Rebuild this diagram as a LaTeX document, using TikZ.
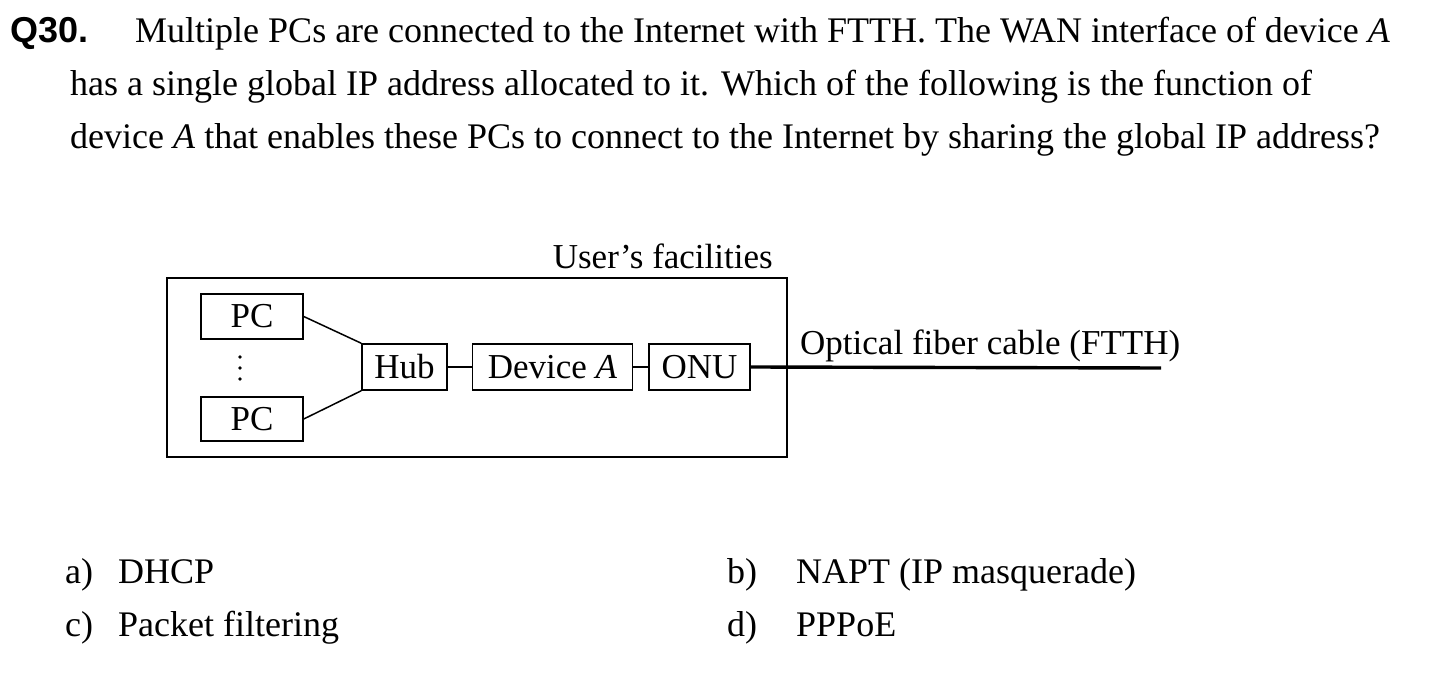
\documentclass[tikz,border=0pt]{standalone}
\usepackage{fontspec}
\setmainfont{Liberation Serif}
\newfontfamily\qfont{Liberation Sans}
\usetikzlibrary{positioning}

\newcommand{\bodyfont}{\fontsize{36}{42}\selectfont}
\newcommand{\diagfont}{\fontsize{35}{40}\selectfont}

\begin{document}
\begin{tikzpicture}[x=1pt, y=-1pt, node distance=24pt,
	box/.style={draw, line width=1.5pt, minimum height=46pt, inner sep=0pt, font=\diagfont},
	txt/.style={anchor=base west, inner sep=0pt, font=\bodyfont},
	wire/.style={line width=1.5pt},
	fiber/.style={line width=3.4pt}]
	\useasboundingbox (0,0) rectangle (1450,676);

	% question
	\node [txt, font=\bodyfont\qfont\bfseries]	(qno)	at (10,43)	{Q30.};
	\node [txt]	(line1)	at (135,43)	{Multiple PCs are connected to the Internet with FTTH. The WAN interface of device \textit{A}};
	\node [txt]	(line2)	at (70,96)	{has a single global IP address allocated to it. Which of the following is the function of};
	\node [txt]	(line3)	at (70,149)	{device \textit{A} that enables these PCs to connect to the Internet by sharing the global IP address?};

	% diagram
	\node [draw, wire, minimum width=620pt, minimum height=179pt, inner sep=0pt]	(frame)	at (477,367.5)	{};
	\node [anchor=base east, inner sep=0pt, font=\diagfont]	(users)	at (773,269)	{User’s facilities};
	\node [box, minimum width=102pt, minimum height=45pt]	(pcone)	at (252,316.5)	{PC};
	\node [box, minimum width=102pt, minimum height=44pt]	(pctwo)	at (252,419)	{PC};
	\foreach \y in {357,368,379}
		\fill (240,\y) circle (1.8pt);
	\node [box, minimum width=85pt]		(hub)	at (404.5,367)	{Hub};
	\node [box, minimum width=160pt]	(device)	[right=of hub]	{Device \textit{A}};
	\node [box, minimum width=101pt]	(onu)	[right=15pt of device]	{ONU};
	\coordinate (cableend) at (1161,368);
	\node [anchor=base west, inner sep=0pt, font=\diagfont]	(cable)	at (800,354)	{Optical fiber cable (FTTH)};

	\draw [wire] (pcone.east) -- (hub.north west);
	\draw [wire] (pctwo.east) -- (hub.south west);
	\draw [wire] (hub) -- (device);
	\draw [wire] (device) -- (onu);
	\draw [fiber] (onu.east) -- (cableend);

	% answers
	\node [txt]	(ansa)	at (65,583)	{a)};
	\node [txt]	(dhcp)	at (118,583)	{DHCP};
	\node [txt]	(ansc)	at (65,636)	{c)};
	\node [txt]	(filter)	at (118,636)	{Packet filtering};
	\node [txt]	(ansb)	at (727,583)	{b)};
	\node [txt]	(napt)	at (796,583)	{NAPT (IP masquerade)};
	\node [txt]	(ansd)	at (727,636)	{d)};
	\node [txt]	(pppoe)	at (796,636)	{PPPoE};
\end{tikzpicture}
\end{document}
